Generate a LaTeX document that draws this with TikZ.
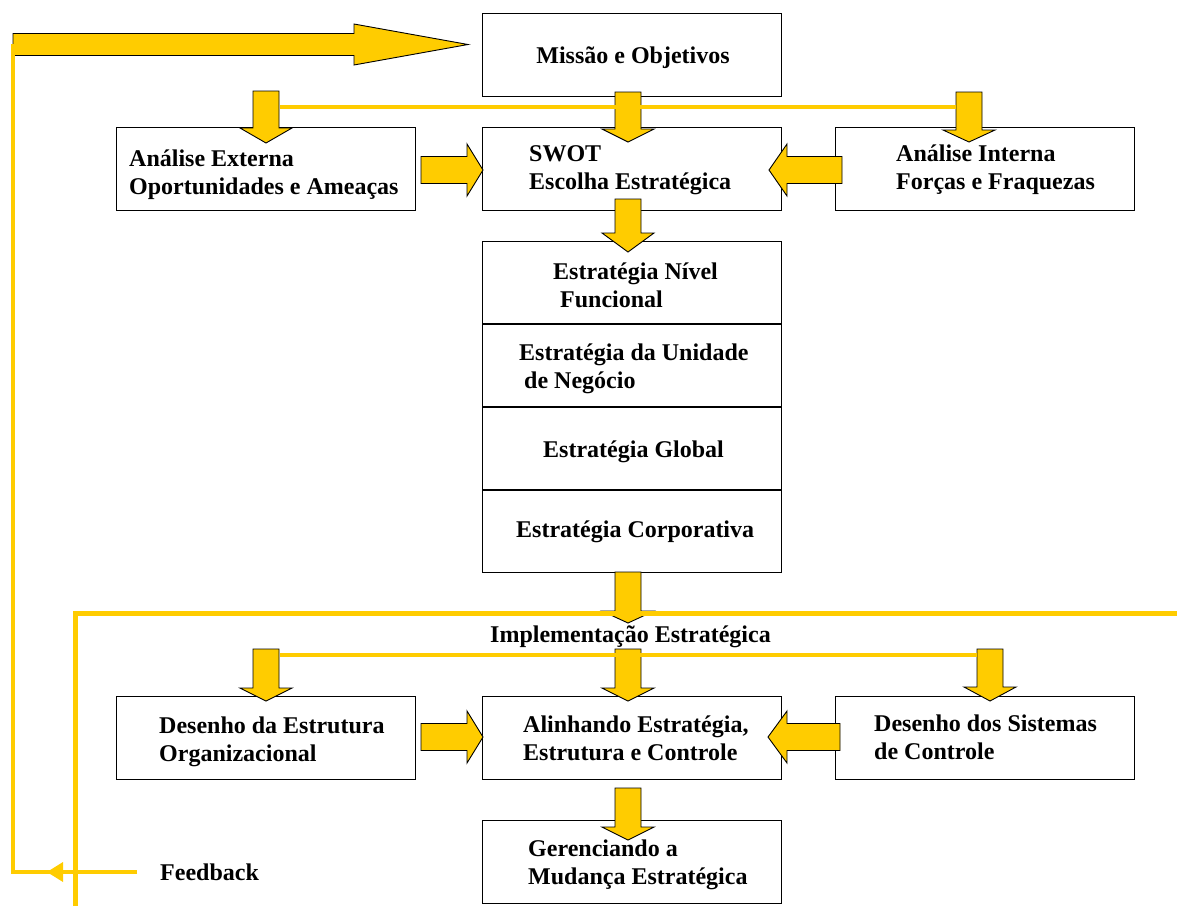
\documentclass[tikz,border=0pt]{standalone}
\usepackage{fontspec}
\setmainfont{Liberation Serif}
\definecolor{gold}{HTML}{FFCC00}
% two stacked lines whose baseline is the first line's baseline
\newcommand\pair[2]{\vtop{\hbox{#1}\hbox{#2}}}
% fat down arrow: centre x, top y, head start y, tip y
\newcommand\fatdown[4]{%
  \draw[fat] ({#1-13},#2) -- ({#1+13},#2) -- ({#1+13},#3) -- ({#1+26},#3)
    -- (#1,#4) -- ({#1-26},#3) -- ({#1-13},#3) -- cycle;}
% fat side arrow: centre y, tail x, head start x, tip x
\newcommand\fatside[4]{%
  \draw[fat] (#2,{#1-13.5}) -- (#3,{#1-13.5}) -- (#3,{#1-26}) -- (#4,#1)
    -- (#3,{#1+26}) -- (#3,{#1+13.5}) -- (#2,{#1+13.5}) -- cycle;}
\begin{document}
\begin{tikzpicture}[x=1pt,y=-1pt,
  box/.style={draw=black, line width=1.1pt, fill=white, anchor=north west,
    inner sep=0pt, minimum width=299pt, minimum height=83pt},
  lbl/.style={anchor=base west, inner sep=0pt,
    font=\bfseries\fontsize{24}{28.5}\selectfont},
  fat/.style={fill=gold, draw=black, line width=0.9pt, line join=miter},
  feed/.style={draw=gold, line width=4.5pt, line join=miter},
  feedtip/.style={fill=gold, draw=none},
]
\useasboundingbox (0,0) rectangle (1177,906);

% boxes
\node[box] (missao) at (482,13) {};
\node[box] (externa) at (116,127) {};
\node[box] (swot) at (482,127) {};
\node[box] (interna) at (835,127) {};
\node[box, minimum height=331pt] (niveis) at (482,241) {};
\draw[line width=1.1pt] (482,324) -- (781,324) (482,407) -- (781,407) (482,490) -- (781,490);
\node[box] (estrutura) at (116,696) {};
\node[box] (alinhando) at (482,696) {};
\node[box] (sistemas) at (835,696) {};
\node[box] (mudanca) at (482,820) {};

% texts
\node[lbl, anchor=base] (tMissao) at (633,63) {Missão e Objetivos};
\node[lbl] (tExterna) at (129,166) {\pair{Análise Externa}{Oportunidades e Ameaças}};
\node[lbl] (tSwot) at (529,161) {\pair{SWOT}{Escolha Estratégica}};
\node[lbl] (tInterna) at (896,161) {\pair{Análise Interna}{Forças e Fraquezas}};
\node[lbl] (tFuncional) at (553,279) {\pair{Estratégia Nível}{\hspace*{7pt}Funcional}};
\node[lbl] (tUnidade) at (519,360) {\pair{Estratégia da Unidade}{\hspace*{5pt}de Negócio}};
\node[lbl] (tGlobal) at (543,457) {Estratégia Global};
\node[lbl] (tCorp) at (516,537) {Estratégia Corporativa};
\node[lbl] (tImpl) at (490,642) {Implementação Estratégica};
\node[lbl] (tEstrutura) at (159,733) {\pair{Desenho da Estrutura}{Organizacional}};
\node[lbl] (tAlinhando) at (523,732) {\pair{Alinhando Estratégia,}{Estrutura e Controle}};
\node[lbl] (tSistemas) at (874,731) {\pair{Desenho dos Sistemas}{de Controle}};
\node[lbl] (tMudanca) at (528,856) {\pair{Gerenciando a}{Mudança Estratégica}};
\node[lbl] (tFeedback) at (160,880) {Feedback};

% top arrow into the mission box
\draw[fat] (13,33.5) -- (354,33.5) -- (354,24) -- (468,44.5) -- (354,65) -- (354,55.5) -- (13,55.5) -- cycle;

% fat arrows between the boxes
\fatdown{266}{91}{128}{143}
\fatdown{628}{92}{129}{142}
\fatdown{969}{92}{130}{142}
\fatdown{628}{199}{233}{252}
\fatside{170}{421}{467}{483}
\fatside{170}{842}{787}{769}
\fatdown{628}{572}{611}{623}
\fatdown{266}{649}{688}{701}
\fatdown{628}{649}{688}{701}
\fatdown{990}{649}{687}{701}
\fatside{737}{421}{467}{483}
\fatside{737}{840}{787}{768}
\fatdown{628}{788}{827}{840}

% distribution lines
\draw[feed] (280,107) -- (956,107);
\draw[feed] (280,655) -- (977,655);

% feedback loops
\coordinate (fbEnd) at (137,872);
\draw[feed, line width=4pt] (fbEnd) -- (13,872) -- (13,44);
\fill[feedtip] (47,872) -- (63,862) -- (63,882) -- cycle;
\draw[feed, line width=5pt] (75,906) -- (75,613) -- (1177,613);
\end{tikzpicture}
\end{document}
